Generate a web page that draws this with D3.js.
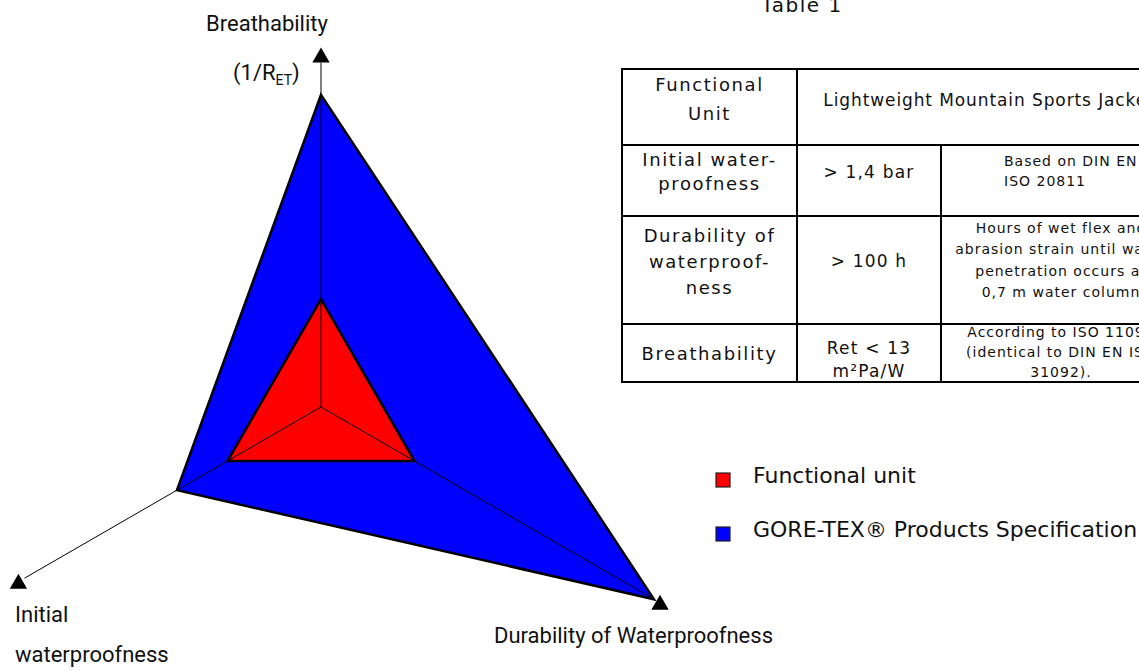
<!DOCTYPE html>
<html>
<head>
<meta charset="utf-8">
<script src="https://cdn.jsdelivr.net/npm/d3@7"></script>
<style>
  body { margin: 0; background: #fff; }
</style>
</head>
<body>
<div id="my_dataviz"></div>
<script>
// axes of the triangle chart, clockwise from the top
var axisNames = ["Breathability", "Durability of Waterproofness", "Initial waterproofness"];
// values relative to the functional unit (= 1 on every axis)
var functionalUnit = [1, 1, 1];
var goreTexSpec = [2.89, 3.56, 1.54];
var axisMax = [3.19, 3.56, 3.17];

// legend
var legendLabels = ["Functional unit", "GORE-TEX\u00AE Products Specification"];
var legendColors = ["#ff0000", "#0000ff"];

// table 1, one array per column, one entry per row, lines inside
var tableCol1 = [["Functional", "Unit"], ["Initial water-", "proofness"], ["Durability of", "waterproof-", "ness"], ["Breathability"]];
var tableCol2 = [["Lightweight Mountain Sports Jacket"], ["> 1,4 bar"], ["> 100 h"], ["Ret < 13", "m\u00B2Pa/W"]];
var tableCol3 = [[], ["Based on DIN EN", "ISO 20811"], ["Hours of wet flex and", "abrasion strain until water", "penetration occurs at", "0,7 m water column"], ["According to ISO 11092", "(identical to DIN EN ISO", "31092)."]];

var width = 1139, height = 670;

var svg = d3.select("#my_dataviz")
  .append("svg")
    .attr("width", width)
    .attr("height", height)
    .style("display", "block");

// ---------- triangle chart ----------
var cx = 321, cy = 407;

var angle = d3.scaleLinear()
  .domain([0, axisNames.length])
  .range([-Math.PI / 2, 3 * Math.PI / 2]);

var r = d3.scaleLinear()
  .domain([0, 1])
  .range([0, 108]);

function pt(v, i) {
  return [cx + r(v) * Math.cos(angle(i)), cy + r(v) * Math.sin(angle(i))];
}

var poly = d3.line().curve(d3.curveLinearClosed);

var chart = svg.append("g");

// blue spec triangle
chart.append("path")
  .attr("d", poly(goreTexSpec.map(pt)))
  .attr("fill", legendColors[1])
  .attr("stroke", "#000")
  .attr("stroke-width", 2.5);

// red functional unit triangle
chart.append("path")
  .attr("d", poly(functionalUnit.map(pt)))
  .attr("fill", legendColors[0])
  .attr("stroke", "#000")
  .attr("stroke-width", 2.5);

// axis lines on top
chart.selectAll(".axisline")
  .data(axisMax)
  .enter()
  .append("line")
    .attr("class", "axisline")
    .attr("x1", cx)
    .attr("y1", cy)
    .attr("x2", function(d, i) { return pt(d, i)[0]; })
    .attr("y2", function(d, i) { return pt(d, i)[1]; })
    .attr("stroke", "#000")
    .attr("stroke-width", 1);

// arrow heads (upright triangles, like in the original)
var tri = d3.symbol().type(d3.symbolTriangle).size(130);
chart.selectAll(".arrow")
  .data(axisMax)
  .enter()
  .append("path")
    .attr("class", "arrow")
    .attr("d", tri)
    .attr("transform", function(d, i) {
      var p = pt(r.invert(r(d) + 7), i);
      return "translate(" + p[0] + "," + (p[1] + 2) + ")";
    })
    .attr("fill", "#000");

// axis labels
var labelFont = "Roboto, 'Open Sans', sans-serif";
svg.append("text")
  .attr("x", 267).attr("y", 31)
  .attr("text-anchor", "middle")
  .style("font-family", labelFont).style("font-size", "22px")
  .attr("fill", "#111")
  .text(axisNames[0]);

var ret = svg.append("text")
  .attr("x", 233).attr("y", 80)
  .style("font-family", labelFont).style("font-size", "22px")
  .attr("fill", "#111");
ret.append("tspan").text("(1/R");
ret.append("tspan").attr("dy", 5).style("font-size", "14px").text("ET");
ret.append("tspan").attr("dy", -5).text(")");

svg.append("text")
  .attr("x", 494).attr("y", 643)
  .style("font-family", labelFont).style("font-size", "22px")
  .attr("fill", "#111")
  .text(axisNames[1]);

svg.selectAll(".initlbl")
  .data(axisNames[2].split(" "))
  .enter()
  .append("text")
    .attr("class", "initlbl")
    .attr("x", 15)
    .attr("y", function(d, i) { return 622 + i * 40; })
    .style("font-family", labelFont).style("font-size", "22px")
    .attr("fill", "#111")
    .text(function(d) { return d; });

// ---------- table ----------
var tfont = "'DejaVu Sans', Verdana, sans-serif";
var colX = [622, 797, 941, 1181];
var rowY = [69, 145, 216, 324, 382];

svg.append("text")
  .attr("x", 802).attr("y", 12)
  .attr("text-anchor", "middle")
  .style("font-family", tfont).style("font-size", "20px").style("letter-spacing", "1.5px")
  .attr("fill", "#111")
  .text("Table 1");

var tbl = svg.append("g");

// outer and inner borders
tbl.append("rect")
  .attr("x", colX[0]).attr("y", rowY[0])
  .attr("width", colX[3] - colX[0]).attr("height", rowY[4] - rowY[0])
  .attr("fill", "none").attr("stroke", "#000").attr("stroke-width", 2);
rowY.slice(1, 4).forEach(function(y) {
  tbl.append("line").attr("x1", colX[0]).attr("x2", colX[3]).attr("y1", y).attr("y2", y)
    .attr("stroke", "#000").attr("stroke-width", 2);
});
tbl.append("line").attr("x1", colX[1]).attr("x2", colX[1]).attr("y1", rowY[0]).attr("y2", rowY[4])
  .attr("stroke", "#000").attr("stroke-width", 2);
tbl.append("line").attr("x1", colX[2]).attr("x2", colX[2]).attr("y1", rowY[1]).attr("y2", rowY[4])
  .attr("stroke", "#000").attr("stroke-width", 2);

// baselines of each cell's lines
var base1 = [[91, 120], [166, 190], [242, 268, 294], [360]];
var base2 = [[106], [178], [267], [354, 377]];
var base3 = [[], [166, 186], [233, 254, 276, 297], [337, 357, 377]];

function cellText(lines, bases, x, anchor, size, spacing) {
  lines.forEach(function(t, k) {
    tbl.append("text")
      .attr("x", x).attr("y", bases[k])
      .attr("text-anchor", anchor)
      .style("font-family", tfont).style("font-size", size + "px")
      .style("letter-spacing", spacing + "px")
      .attr("fill", "#111")
      .text(t);
  });
}

tableCol1.forEach(function(lines, i) {
  cellText(lines, base1[i], (colX[0] + colX[1]) / 2, "middle", 18, 1.6);
});
tableCol2.forEach(function(lines, i) {
  var x = i === 0 ? (colX[1] + colX[3]) / 2 : (colX[1] + colX[2]) / 2;
  cellText(lines, base2[i], x, "middle", 17, i === 0 ? 0.9 : 1.2);
});
tableCol3.forEach(function(lines, i) {
  if (i === 1) cellText(lines, base3[i], 1004, "start", 14, 1);
  else cellText(lines, base3[i], (colX[2] + colX[3]) / 2, "middle", 14, 1);
});

// ---------- legend ----------
var legend = svg.selectAll(".legend")
  .data(legendLabels)
  .enter()
  .append("g")
    .attr("class", "legend")
    .attr("transform", function(d, i) { return "translate(716," + (473 + i * 54) + ")"; });

legend.append("rect")
  .attr("width", 14).attr("height", 14)
  .attr("fill", function(d, i) { return legendColors[i]; })
  .attr("stroke", "#222").attr("stroke-width", 1.2);

legend.append("text")
  .attr("x", 37).attr("y", 10)
  .style("font-family", tfont).style("font-size", "22px")
  .attr("fill", "#111")
  .text(function(d) { return d; });
</script>
</body>
</html>
